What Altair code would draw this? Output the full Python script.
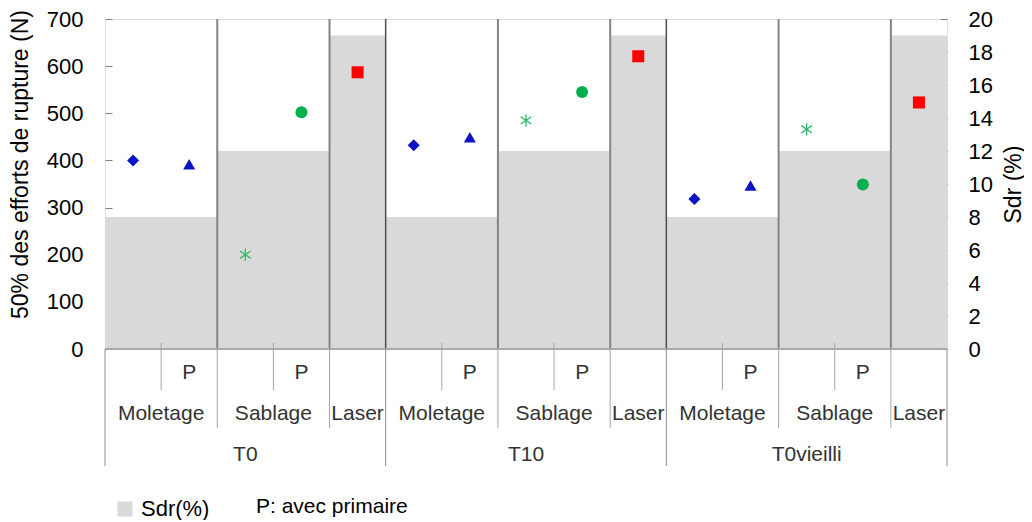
import altair as alt
import pandas as pd

# ---------------- data ----------------
groups = ["T0", "T10", "T0vieilli"]
sections = ["Moletage", "Sablage", "Laser"]
section_cols = [2, 2, 1]
sub_labels = ["", "P", "", "P", ""]
sdr_values = [8, 12, 19]          # Sdr (%) per surface treatment

series = ["Moletage", "Moletage P", "Sablage", "Sablage P", "Laser"]
moletage = [400, 432, 318]
moletage_p = [392, 449, 347]
sablage = [200, 485, 466]
sablage_p = [502, 545, 349]
laser = [587, 621, 523]
series_values = [moletage, moletage_p, sablage, sablage_p, laser]

left_ticks = [0, 100, 200, 300, 400, 500, 600, 700]
right_ticks = [0, 2, 4, 6, 8, 10, 12, 14, 16, 18, 20]

# ---------------- tables built from the lists ----------------
ncol = sum(section_cols)
bar_rows, pt_rows = [], []
sub_pos, sec_pos, grp_pos = [], [], []
lab_p, lab_sec, lab_grp = [], [], []
for gi, g in enumerate(groups):
    start = gi * ncol
    grp_pos.append(start)
    lab_grp.append({"x": start + ncol / 2, "label": g})
    c = start
    for si, s in enumerate(sections):
        x0, x1 = c, c + section_cols[si]
        bar_rows.append({"x0": x0, "x1": x1, "sdr": sdr_values[si], "leg": "Sdr(%)"})
        lab_sec.append({"x": (x0 + x1) / 2, "label": s})
        if section_cols[si] == 2:
            sub_pos.append(x0 + 1)
        if si < len(sections) - 1:
            sec_pos.append(x1)
        c = x1
    for k in range(ncol):
        pt_rows.append({"x": start + k + 0.5, "value": series_values[k][gi],
                        "series": series[k]})
        if sub_labels[k]:
            lab_p.append({"x": start + k + 0.5, "label": sub_labels[k]})
grp_pos.append(len(groups) * ncol)

bar_df = pd.DataFrame(bar_rows)
pt_df = pd.DataFrame(pt_rows)
xs = alt.Scale(domain=[0, len(groups) * ncol], nice=False, zero=False)
FONT = "Liberation Sans"

# ---------------- layers ----------------
bars = alt.Chart(bar_df).mark_rect(opacity=1).encode(
    x=alt.X("x0:Q", scale=xs, axis=None),
    x2="x1:Q",
    y=alt.Y("sdr:Q", scale=alt.Scale(domain=[0, 20], nice=False),
            axis=alt.Axis(orient="right", values=right_ticks, title="Sdr (%)",
                          offset=-7, tickSize=7, tickColor="#808080", domain=False,
                          grid=False, labelFontSize=22, labelColor="#000000",
                          labelPadding=21, labelFont=FONT, titleFont=FONT,
                          titleFontSize=23, titleFontWeight="normal",
                          titleColor="#000000", titleAngle=270, titleX=73,
                          titleY=165, titleAlign="center", titleBaseline="middle")),
    y2=alt.datum(0),
    color=alt.Color("leg:N", scale=alt.Scale(range=["#d9d9d9"]),
                    legend=alt.Legend(orient="none", legendX=9, legendY=479,
                                      title=None, symbolType="square",
                                      symbolSize=225, symbolStrokeWidth=0,
                                      labelFontSize=22, labelFont=FONT,
                                      labelColor="#000000", labelOffset=5,
                                      padding=0)),
)

sec_df = pd.DataFrame({"pos": sec_pos})
grp_in_df = pd.DataFrame({"pos": grp_pos[1:-1]})
sub_df = pd.DataFrame({"pos": sub_pos})
grp_df = pd.DataFrame({"pos": grp_pos})

sec_rules_plot = alt.Chart(sec_df).mark_rule(color="#858585", strokeWidth=2).encode(
    x=alt.X("pos:Q", scale=xs, axis=None), y=alt.value(0), y2=alt.value(330))
grp_rules_plot = alt.Chart(grp_in_df).mark_rule(color="#4d4d4d", strokeWidth=1.5).encode(
    x=alt.X("pos:Q", scale=xs, axis=None), y=alt.value(0), y2=alt.value(330))
base_rule = alt.Chart(grp_df).mark_rule(color="#a6a6a6", strokeWidth=1).encode(
    x=alt.value(0), x2=alt.value(842), y=alt.value(330))
sec_rules_lab = alt.Chart(sec_df).mark_rule(color="#a6a6a6", strokeWidth=1).encode(
    x=alt.X("pos:Q", scale=xs, axis=None), y=alt.value(330), y2=alt.value(409))
sub_rules_lab = alt.Chart(sub_df).mark_rule(color="#a6a6a6", strokeWidth=1).encode(
    x=alt.X("pos:Q", scale=xs, axis=None), y=alt.value(324), y2=alt.value(371))
grp_rules_lab = alt.Chart(grp_df).mark_rule(color="#8c8c8c", strokeWidth=1).encode(
    x=alt.X("pos:Q", scale=xs, axis=None), y=alt.value(330), y2=alt.value(447))

asterisk_path = "M0,-1L0,1M-0.87,-0.6L0.87,0.6M-0.87,0.6L0.87,-0.6"
filled_series = ["Moletage", "Moletage P", "Sablage P", "Laser"]

pts = alt.Chart(pt_df[pt_df["series"].isin(filled_series)]).mark_point(
    filled=True, opacity=1, size=145).encode(
    x=alt.X("x:Q", scale=xs, axis=None),
    y=alt.Y("value:Q", scale=alt.Scale(domain=[0, 700], nice=False),
            axis=alt.Axis(orient="left", values=left_ticks,
                          title="50% des efforts de rupture (N)",
                          offset=-7, tickSize=7, tickColor="#808080", domain=False,
                          grid=False, labelFontSize=22, labelColor="#000000",
                          labelPadding=22, labelFont=FONT, titleFont=FONT,
                          titleFontSize=23, titleFontWeight="normal",
                          titleColor="#000000", titleAngle=270, titleX=-92,
                          titleY=145, titleAlign="center", titleBaseline="middle")),
    shape=alt.Shape("series:N", scale=alt.Scale(
        domain=filled_series, range=["diamond", "triangle-up", "circle", "square"]),
        legend=None),
    color=alt.Color("series:N", scale=alt.Scale(
        domain=filled_series, range=["#0a14c4", "#0a14c4", "#00b050", "#ff0000"]),
        legend=None),
)

ast = alt.Chart(pt_df[pt_df["series"] == "Sablage"]).mark_point(
    shape=asterisk_path, filled=False, opacity=1, size=150, strokeWidth=1.3,
    color="#2fb86a").encode(
    x=alt.X("x:Q", scale=xs, axis=None),
    y=alt.Y("value:Q", scale=alt.Scale(domain=[0, 700], nice=False), axis=None),
)

txt_p = alt.Chart(pd.DataFrame(lab_p)).mark_text(
    font=FONT, fontSize=21, color="#333333", align="center", baseline="middle").encode(
    x=alt.X("x:Q", scale=xs, axis=None), y=alt.value(354), text="label:N")
txt_sec = alt.Chart(pd.DataFrame(lab_sec)).mark_text(
    font=FONT, fontSize=21, color="#333333", align="center", baseline="middle").encode(
    x=alt.X("x:Q", scale=xs, axis=None), y=alt.value(395), text="label:N")
txt_grp = alt.Chart(pd.DataFrame(lab_grp)).mark_text(
    font=FONT, fontSize=21, color="#333333", align="center", baseline="middle").encode(
    x=alt.X("x:Q", scale=xs, axis=None), y=alt.value(436), text="label:N")
note = alt.Chart(pd.DataFrame({"t": ["P: avec primaire"]})).mark_text(
    font=FONT, fontSize=21, color="#000000", align="left", baseline="middle").encode(
    x=alt.value(151), y=alt.value(488), text="t:N")

chart = alt.layer(
    bars, sec_rules_plot, grp_rules_plot, base_rule, sec_rules_lab, sub_rules_lab,
    grp_rules_lab, pts, ast, txt_p, txt_sec, txt_grp, note
).resolve_scale(
    y="independent", color="independent", shape="independent"
).properties(
    width=842, height=330,
    autosize=alt.AutoSizeParams(type="none"),
    padding={"left": 97, "top": 11, "right": 77, "bottom": 171},
).configure_view(stroke="#808080", strokeWidth=1).configure(font=FONT)

chart.save("out.html", embed_options={"renderer": "svg", "actions": False})
